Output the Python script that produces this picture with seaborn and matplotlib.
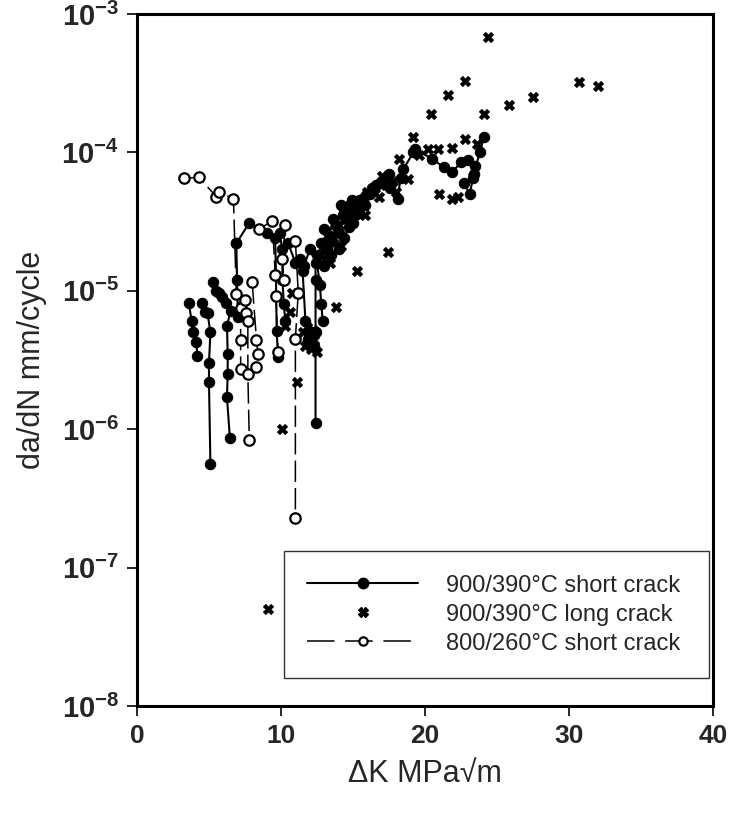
import pandas as pd
import matplotlib
matplotlib.use("Agg")
import matplotlib.pyplot as plt
from matplotlib.lines import Line2D
from matplotlib.ticker import NullLocator
import seaborn as sns

# 900/390 C short crack (filled circles, solid line) - one line per crack id
short900_crack = ([1] * 5 + [2] * 7 + [3] * 11 + [4] * 7 + [5] * 3 + [6] * 5 + [7] * 9
                  + [8] * 5 + [9] * 4 + [10] * 36 + [11] * 8 + [12] * 10)
short900_dk = [
    3.6, 3.8, 3.9, 4.1, 4.2,
    4.5, 4.7, 4.9, 5.1, 5.0, 5.0, 5.1,
    5.3, 5.5, 5.7, 5.9, 6.2, 6.5, 6.25, 6.3, 6.3, 6.25, 6.45,
    6.9, 7.8, 9.0, 9.6, 9.65, 9.7, 9.8,
    6.9, 6.95, 7.0,
    9.9, 10.1, 10.1, 10.2, 10.3,
    10.5, 11.0, 11.3, 11.6, 12.0, 12.4, 12.4, 12.4, 12.4,
    11.5, 11.7, 11.9, 12.1, 12.3,
    12.5, 12.7, 12.8, 12.9,
    12.6, 12.8, 13.0, 13.2, 13.4, 13.5, 13.8, 14.0, 14.3, 14.6, 14.8, 15.1,
    15.3, 15.6, 15.9, 16.3, 16.9, 17.2, 17.6, 18.1, 18.3, 18.5, 19.2, 19.3,
    20.5, 21.3, 21.9, 22.5, 23.0, 23.5, 23.3, 22.7, 23.1, 23.4, 23.8, 24.1,
    13.0, 13.3, 13.6, 13.9, 14.2, 14.5, 14.9, 15.2,
    14.0, 14.4, 14.7, 15.0, 15.4, 15.8, 16.2, 16.6, 17.0, 17.5,
]
short900_rate = [
    8.2e-6, 6.0e-6, 5.0e-6, 4.3e-6, 3.4e-6,
    8.1e-6, 7.0e-6, 6.9e-6, 5.0e-6, 3.0e-6, 2.2e-6, 5.6e-7,
    1.15e-5, 1.0e-5, 9.7e-6, 9.0e-6, 8.1e-6, 7.1e-6, 5.6e-6, 3.5e-6, 2.5e-6, 1.7e-6, 8.7e-7,
    2.2e-5, 3.1e-5, 2.6e-5, 2.4e-5, 1.3e-5, 5.1e-6, 3.3e-6,
    2.2e-5, 1.2e-5, 6.5e-6,
    2.6e-5, 2.0e-5, 1.2e-5, 8.0e-6, 6.0e-6,
    2.2e-5, 1.6e-5, 1.7e-5, 1.5e-5, 2.0e-5, 1.6e-5, 1.2e-5, 5.0e-6, 1.1e-6,
    1.4e-5, 6.0e-6, 4.5e-6, 5.0e-6, 4.0e-6,
    1.6e-5, 1.1e-5, 8.0e-6, 6.0e-6,
    1.8e-5, 2.2e-5, 1.5e-5, 2.0e-5, 2.5e-5, 1.8e-5, 3.0e-5, 2.6e-5, 3.5e-5, 4.0e-5, 3.2e-5, 4.3e-5,
    3.6e-5, 4.6e-5, 4.9e-5, 5.5e-5, 6.0e-5, 6.5e-5, 5.5e-5, 4.6e-5, 6.5e-5, 7.6e-5, 1.0e-4, 1.05e-4,
    9.0e-5, 7.8e-5, 7.2e-5, 8.5e-5, 8.8e-5, 8.0e-5, 6.5e-5, 6.0e-5, 5.0e-5, 7.0e-5, 1.0e-4, 1.3e-4,
    2.8e-5, 2.3e-5, 3.3e-5, 2.9e-5, 4.2e-5, 3.7e-5, 4.5e-5, 4.1e-5,
    2.0e-5, 2.4e-5, 2.9e-5, 3.1e-5, 3.9e-5, 4.2e-5, 5.0e-5, 5.8e-5, 6.2e-5, 7.0e-5,
]

# 900/390 C long crack (crosses)
long900_dk = [
    9.1, 10.1, 11.1, 10.3, 10.6, 10.8, 11.5, 11.7, 11.9, 12.1, 12.3, 12.5, 12.2, 11.8,
    13.8, 15.3, 17.4, 12.8, 13.2, 13.6, 14.0, 14.5, 14.8, 15.0, 15.5, 16.0, 16.5,
    17.0, 17.3, 17.8, 18.2, 18.8, 19.2, 19.6, 20.2, 20.9, 21.9, 22.8, 23.6, 21.0,
    21.9, 22.3, 23.3, 20.4, 21.6, 22.8, 24.4, 24.1, 25.8, 27.5, 30.7, 32.0,
    13.4, 14.2, 15.8, 16.8, 18.0,
]
long900_rate = [
    5.0e-8, 1.0e-6, 2.2e-6, 5.6e-6, 7.0e-6, 9.7e-6, 5.0e-6, 4.0e-6, 4.7e-6, 3.8e-6, 4.4e-6, 3.6e-6, 5.2e-6, 5.5e-6,
    7.7e-6, 1.4e-5, 1.9e-5, 1.8e-5, 2.5e-5, 2.2e-5, 3.0e-5, 3.3e-5, 4.2e-5, 3.8e-5, 4.5e-5, 5.2e-5, 5.5e-5,
    6.8e-5, 5.8e-5, 6.2e-5, 9.0e-5, 6.4e-5, 1.3e-4, 9.5e-5, 1.05e-4, 1.05e-4, 1.07e-4, 1.26e-4, 1.15e-4, 5.0e-5,
    4.6e-5, 4.8e-5, 6.6e-5, 1.9e-4, 2.6e-4, 3.3e-4, 6.8e-4, 1.9e-4, 2.2e-4, 2.5e-4, 3.2e-4, 3.0e-4,
    1.6e-5, 2.1e-5, 3.5e-5, 4.8e-5, 5.2e-5,
]

# 800/260 C short crack (open circles, dashed line)
short800_crack = [1] * 9 + [2] * 5 + [3] * 4 + [4] * 5 + [5] * 3 + [6] * 4
short800_dk = [
    3.3, 4.3, 5.5, 5.7, 6.7, 6.9, 7.2, 7.2, 7.2,
    7.5, 7.6, 7.7, 7.7, 7.8,
    8.0, 8.3, 8.4, 8.3,
    8.5, 9.4, 9.6, 9.65, 9.8,
    10.3, 10.1, 10.2,
    11.0, 11.2, 11.0, 11.0,
]
short800_rate = [
    6.5e-5, 6.6e-5, 4.8e-5, 5.2e-5, 4.6e-5, 9.5e-6, 7.5e-6, 4.4e-6, 2.7e-6,
    8.6e-6, 6.9e-6, 6.0e-6, 2.5e-6, 8.3e-7,
    1.15e-5, 4.4e-6, 3.5e-6, 2.8e-6,
    2.8e-5, 3.2e-5, 1.3e-5, 9.2e-6, 3.6e-6,
    3.0e-5, 1.7e-5, 1.2e-5,
    2.3e-5, 9.7e-6, 4.5e-6, 2.3e-7,
]

short900 = pd.DataFrame({"crack": short900_crack, "dk": short900_dk, "rate": short900_rate})
long900 = pd.DataFrame({"dk": long900_dk, "rate": long900_rate})
short800 = pd.DataFrame({"crack": short800_crack, "dk": short800_dk, "rate": short800_rate})

sns.set_style("ticks")
plt.rcParams["font.family"] = ["Liberation Sans", "DejaVu Sans"]
plt.rcParams["mathtext.fontset"] = "custom"
plt.rcParams["mathtext.rm"] = "Liberation Sans"
plt.rcParams["mathtext.bf"] = "Liberation Sans:bold"

fig = plt.figure(figsize=(7.34, 8.14), dpi=100)
ax = fig.add_axes([0.1866, 0.1327, 0.7848, 0.8501])

sns.lineplot(data=short900, x="dk", y="rate", units="crack", estimator=None, sort=False,
             color="black", linewidth=1.5, marker="o", markersize=7.5,
             markerfacecolor="black", markeredgecolor="black", ax=ax, zorder=2)
sns.scatterplot(data=long900, x="dk", y="rate", marker="X", s=60, color="black",
                edgecolor="black", linewidth=0.3, ax=ax, zorder=3)
sns.lineplot(data=short800, x="dk", y="rate", units="crack", estimator=None, sort=False,
             color="black", linewidth=1.1, dashes=False, linestyle=(0, (14, 4)),
             marker="o", markersize=7.5, markerfacecolor="white", markeredgecolor="black",
             markeredgewidth=1.6, ax=ax, zorder=4)

ax.set_yscale("log")
ax.set_xlim(0, 40)
ax.set_ylim(1e-8, 1e-3)
ax.set_xticks([0, 10, 20, 30, 40])
ax.set_xticklabels(["0", "10", "20", "30", "40"], fontweight="bold", fontsize=19)
yticks = [1e-8, 1e-7, 1e-6, 1e-5, 1e-4, 1e-3]
ax.set_yticks(yticks)
ax.set_yticklabels([r"$\mathbf{10^{-%d}}$" % e for e in [8, 7, 6, 5, 4, 3]], fontsize=21)
ax.yaxis.set_minor_locator(NullLocator())
ax.tick_params(axis="both", direction="out", length=7, width=1.2, color="black", pad=6)

for sp in ax.spines.values():
    sp.set_linewidth(2.2)
    sp.set_color("black")

ax.set_xlabel("ΔK MPa√m", fontsize=22, labelpad=8)
ax.set_ylabel("da/dN mm/cycle", fontsize=22, labelpad=10)

handles = [
    Line2D([], [], color="black", linewidth=1.5, marker="o", markersize=7.5,
           markerfacecolor="black", markeredgecolor="black"),
    Line2D([], [], linestyle="none", marker="X", markersize=7, color="black"),
    Line2D([], [], color="black", linewidth=1.1, linestyle=(0, (18, 7)), marker="o",
           markersize=6, markerfacecolor="white", markeredgecolor="black", markeredgewidth=1.6),
]
labels = ["900/390°C short crack", "900/390°C long crack", "800/260°C short crack"]
leg = ax.legend(handles, labels, loc="lower left", bbox_to_anchor=(0.255, 0.04, 0.738, 0.18),
                mode="expand", fontsize=17, handlelength=4.7, handletextpad=1.15,
                labelspacing=0.3, borderpad=1.0, borderaxespad=0, frameon=True, fancybox=False)
leg.get_frame().set_edgecolor("black")
leg.get_frame().set_linewidth(1.0)

fig.savefig("out.png", dpi=100, facecolor="white")
